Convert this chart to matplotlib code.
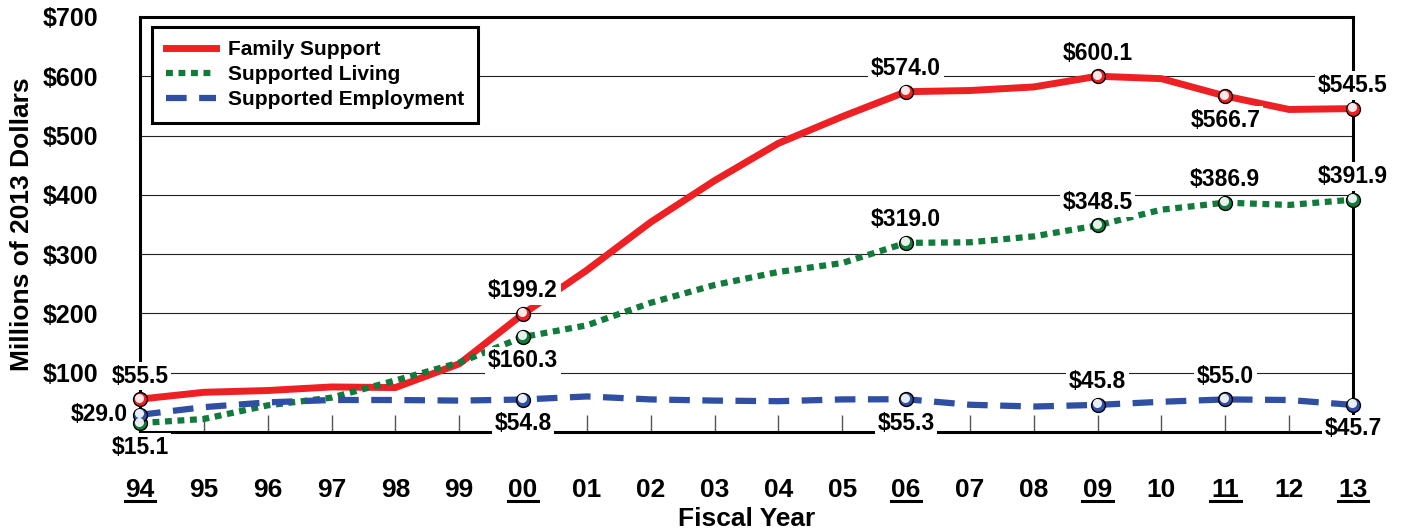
import matplotlib.pyplot as plt
from matplotlib.transforms import offset_copy, blended_transform_factory

plt.rcParams['font.family'] = ['Liberation Sans', 'DejaVu Sans']
plt.rcParams['font.weight'] = 'bold'

# Datos (millones de dolares de 2013)
years = ['94', '95', '96', '97', '98', '99', '00', '01', '02', '03',
         '04', '05', '06', '07', '08', '09', '10', '11', '12', '13']
family = [55.5, 67, 70, 76, 75, 115, 199.2, 273, 354, 424,
          487, 532, 574.0, 576, 582, 600.1, 596, 566.7, 544, 545.5]
living = [15.1, 22, 45, 58, 87, 117, 160.3, 180, 218, 248,
          270, 285, 319.0, 320, 330, 348.5, 375, 386.9, 383, 391.9]
employment = [29.0, 42, 50, 54, 54, 53, 54.8, 60, 55, 53,
              52, 55, 55.3, 46, 43, 45.8, 51, 55.0, 54, 45.7]
marked = ['94', '00', '06', '09', '11', '13']
yticks = [100, 200, 300, 400, 500, 600, 700]

# posicion de cada etiqueta respecto al punto: up / down / left
family_pos = ['up', 'up', 'up', 'up', 'down', 'up']
living_pos = ['down', 'down', 'up', 'up', 'up', 'up']
employment_pos = ['left', 'down', 'down', 'up', 'up', 'down']

series = [
    ('Family Support', family, '#ED2024', '-', 5.0, family_pos),
    ('Supported Living', living, '#127A3A', (0, (1.1, 0.9)), 4.5, living_pos),
    ('Supported Employment', employment, '#2F4FA2', (0, (3.3, 2.0)), 4.5, employment_pos),
]

x = list(range(len(years)))
idx = [years.index(m) for m in marked]

fig, ax = plt.subplots(figsize=(14.02, 5.31), dpi=100)
fig.subplots_adjust(left=0.0999, right=0.965, top=0.968, bottom=0.1864)

highlight = offset_copy(ax.transData, fig=fig, x=-1, y=1.5, units='dots')
offsets = {'up': (0, 23, 'center'), 'down': (0, -24, 'center'), 'left': (-12, 0, 'right')}

for name, vals, color, ls, lw, pos in series:
    ax.plot(x, vals, color=color, linestyle=ls, lw=lw, label=name,
            zorder=3, clip_on=False)
    mx = [x[i] for i in idx]
    my = [vals[i] for i in idx]
    ax.plot(mx, my, 'o', ms=10, mfc=color, mec='black', mew=1.0,
            zorder=4, clip_on=False)
    ax.plot(mx, my, 'o', ms=6.5, mfc='white', mec='none', alpha=0.9,
            transform=highlight, zorder=5, clip_on=False)
    for i, p in zip(idx, pos):
        dx, dy, ha = offsets[p]
        ax.annotate(f'${vals[i]:.1f}', (x[i], vals[i]), xytext=(dx, dy),
                    textcoords='offset pixels', ha=ha, va='center',
                    fontsize=16.5, fontweight='bold', zorder=6,
                    annotation_clip=False,
                    bbox=dict(boxstyle='square,pad=0.12', fc='white', ec='none'))

ax.set_xlim(0, len(years) - 1)
ax.set_ylim(0, 700)
ax.set_yticks(yticks)
ax.set_yticklabels([f'${v}' for v in yticks])
ax.set_xticks(x)
ax.set_xticklabels(years)

ax.grid(axis='y', color='#222222', lw=0.8)
ax.set_axisbelow(True)
ax.tick_params(axis='y', length=0, pad=30, labelsize=18)
ax.tick_params(axis='x', direction='in', length=12, width=1.0, color='#555555',
               pad=33, labelsize=19)
for s in ax.spines.values():
    s.set_linewidth(2.2)

# subrayado de los anos destacados
trans = blended_transform_factory(ax.transData, ax.transAxes)
for i in idx:
    ax.plot([x[i] - 0.24, x[i] + 0.24], [-0.165, -0.165], color='black',
            lw=2.2, transform=trans, clip_on=False)

ax.set_ylabel('Millions of 2013 Dollars', fontsize=19, fontweight='bold', labelpad=6)
ax.set_xlabel('Fiscal Year', fontsize=19, fontweight='bold', labelpad=4)

leg = ax.legend(loc='upper left', bbox_to_anchor=(0.0099, 0.976), borderaxespad=0,
                fontsize=15, handlelength=2.4, handletextpad=0.6, labelspacing=0.28,
                borderpad=0.65, fancybox=False, framealpha=1)
leg.get_frame().set_edgecolor('black')
leg.get_frame().set_linewidth(2.2)
leg.set_zorder(7)

plt.savefig('out.png', dpi=100)
